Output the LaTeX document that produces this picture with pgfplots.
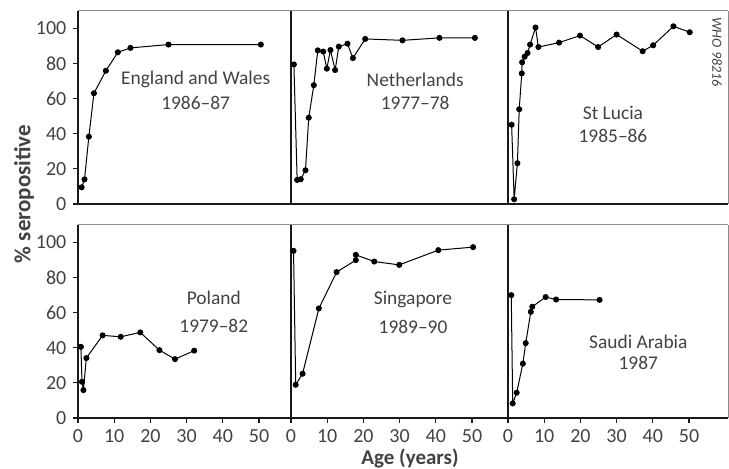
\documentclass[border=0pt]{standalone}
\usepackage{fontspec}
\setmainfont{Carlito}
\usepackage{pgfplots}
\pgfplotsset{compat=1.18}
\definecolor{txt}{gray}{0.26}
\definecolor{frame}{gray}{0.55}
\tikzset{lab/.style={font=\fontsize{9.7}{11}\selectfont, text=txt}}
\pgfplotsset{
  panel/.style={
    x=1.81pt, y=0.879pt,
    xmin=0, ymin=0, ymax=110,
    anchor=south west,
    axis x line*=bottom, axis y line*=left,
    axis line style={-, line width=0.65pt, black!90},
    tick align=outside, major tick length=2.3pt,
    every tick/.style={line width=0.55pt, black!90},
    xtick=\empty, ytick=\empty,
    clip=false,
    ticklabel style={font=\fontsize{10}{11}\selectfont, text=txt},
    /pgf/number format/assume math mode=true,
    every axis plot/.append style={line width=0.5pt, mark=*, mark size=1.25pt},
    every axis plot post/.append style={black, mark options={solid, fill=black, draw=black}},
    after end axis/.code={\draw[frame, line width=0.5pt] (rel axis cs:0,1) -- (rel axis cs:1,1);},
  },
}
\begin{document}
\begin{tikzpicture}
\path[use as bounding box] (0,0) rectangle (364.5pt,-234pt);
% ---------------- top row
\begin{axis}[panel, at={(39pt,-102pt)}, xmax=58.8, ytick={0,20,...,100}]
\addplot coordinates {(1,9.5) (1.8,14) (3,38.3) (4.4,63) (7.7,75.8) (11,86.3) (14.5,88.8) (25,90.7) (50.5,90.7)};
\node[lab] at (axis cs:32.5,70.9) {England and Wales};
\node[lab] at (axis cs:32.5,57.7) {1986--87};
\end{axis}
\begin{axis}[panel, at={(145.5pt,-102pt)}, xmax=60]
\addplot coordinates {(0.8,79.4) (1.7,13.7) (2.7,14.1) (4,19.2) (4.9,49.1) (6.3,67.6) (7.4,87.4) (8.9,86.7) (9.9,77) (10.9,87.6) (12.2,76.2) (13.2,89.5) (15.6,91.2) (17.1,83) (20.5,93.9) (30.8,93.1) (41,94.5) (50.8,94.5)};
\node[lab] at (axis cs:34.3,70.9) {Netherlands};
\node[lab] at (axis cs:34.3,57.7) {1977--78};
\end{axis}
\begin{axis}[panel, at={(254pt,-102pt)}, xmax=60.8,
  after end axis/.append code={\draw[frame, line width=0.5pt] (rel axis cs:1,0) -- (rel axis cs:1,1);}]
\addplot coordinates {(1,45.1) (1.7,2.7) (2.6,23.2) (3.1,53.9) (3.8,74.3) (3.9,80.6) (4.6,83.8) (5.4,85.9) (6.1,90.7) (7.6,100.4) (8.4,89.3) (14.1,91.8) (19.9,95.8) (24.9,89.3) (30,96.4) (37.2,86.9) (40.1,90.3) (45.7,101.1) (50.2,97.7)};
\node[lab] at (axis cs:29,52) {St Lucia};
\node[lab] at (axis cs:29,38.9) {1985--86};
\end{axis}
% ---------------- bottom row
\begin{axis}[panel, at={(39pt,-209pt)}, xmax=58.8, ytick={0,20,...,100}, xtick={0,10,...,50}]
\addplot coordinates {(0.8,40.5) (1.1,20.6) (1.5,15.9) (2.3,34.1) (6.8,47) (11.8,46.2) (17.2,48.7) (22.5,38.6) (26.8,33.5) (32.1,38.3)};
\node[lab] at (axis cs:37.5,68.2) {Poland};
\node[lab] at (axis cs:37.5,52.3) {1979--82};
\end{axis}
\begin{axis}[panel, at={(145.5pt,-209pt)}, xmax=60, xtick={0,10,...,50}]
\addplot coordinates {(0.7,95.1) (1.3,18.9) (3.2,25.2) (7.7,62.3) (12.6,83) (17.9,89.8) (17.9,92.8) (23,89) (29.9,87.1) (40.7,95.5) (50.3,97.2)};
\node[lab] at (axis cs:33.7,67.6) {Singapore};
\node[lab] at (axis cs:33.7,52) {1989--90};
\end{axis}
\begin{axis}[panel, at={(254pt,-209pt)}, xmax=60.8, xtick={0,10,...,50},
  after end axis/.append code={\draw[frame, line width=0.5pt] (rel axis cs:1,0) -- (rel axis cs:1,1);}]
\addplot coordinates {(0.9,69.9) (1.3,8.3) (2.4,14.4) (4.1,30.9) (4.9,42.6) (6.3,60.4) (6.7,63.3) (10.4,68.8) (13.3,67.4) (25.3,67.2)};
\node[lab] at (axis cs:36,43.2) {Saudi Arabia};
\node[lab] at (axis cs:36,31.3) {1987};
\end{axis}
% ---------------- labels
\node[rotate=90, font=\bfseries\fontsize{11.5}{13}\selectfont, text=txt] at (12pt,-97pt) {\% seropositive};
\node[font=\bfseries\fontsize{10.5}{12}\selectfont, text=txt] at (205pt,-229pt) {Age (years)};
\node[rotate=-90, font=\itshape\fontsize{7}{8}\selectfont, text=txt] at (358.5pt,-26pt) {WHO 98216};
\end{tikzpicture}
\end{document}
